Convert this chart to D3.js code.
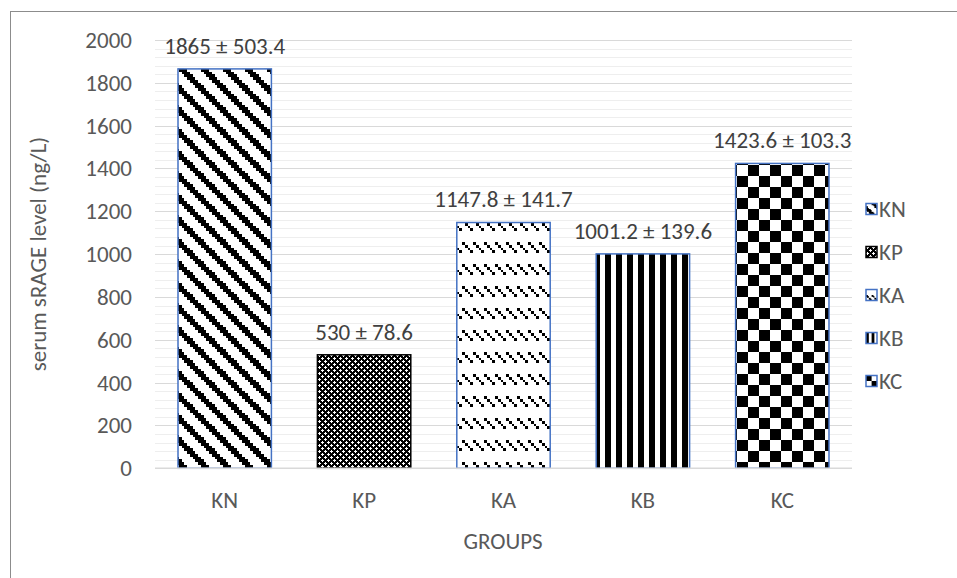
<!DOCTYPE html>
<html><head><meta charset="utf-8">
<script src="https://cdn.jsdelivr.net/npm/d3@7/dist/d3.min.js"></script>
<style>
html,body{margin:0;padding:0;background:#fff;}
svg{display:block;font-family:Carlito,Lato,"Open Sans",sans-serif;}
</style></head>
<body>
<svg id="chart" width="957" height="578"></svg>
<script>
const categories = ["KN","KP","KA","KB","KC"];
const means = [1865, 530, 1147.8, 1001.2, 1423.6];
const sds = [503.4, 78.6, 141.7, 139.6, 103.3];
const yTicks = [0,200,400,600,800,1000,1200,1400,1600,1800,2000];
const patterns = ["wideDown","sphere","dashedDown","wideVert","checker"];
const borders = ["#4472C4","#000000","#4472C4","#4472C4","#4472C4"];
const FS = 23;

const svg = d3.select("#chart");
const defs = svg.append("defs");

function makePattern(id, kind, s){
  const T = 8*s;
  const p = defs.append("pattern").attr("id",id).attr("patternUnits","userSpaceOnUse")
    .attr("width", kind==="sphere" ? 6 : T).attr("height", kind==="sphere" ? 6 : T);
  const px = [];
  if(kind==="wideDown"){
    for(let r=0;r<8;r++) for(let k=0;k<3;k++) px.push([(r+k)%8, r]);
  } else if(kind==="dashedDown"){
    for(let r=0;r<4;r++){ px.push([r,r]); px.push([r+4,r]); }
  } else if(kind==="wideVert"){
    for(let r=0;r<8;r++) for(const c of [0,1,4,5]) px.push([c,r]);
  } else if(kind==="checker"){
    for(let r=0;r<8;r++) for(let c=0;c<8;c++) if(((r<4)?0:1) ^ ((c<4)?0:1)) px.push([c,r]);
  }
  if(kind==="sphere"){
    p.append("rect").attr("width",6).attr("height",6).attr("fill","#000");
    const w = [[0,1,3,1],[1,0,1,3],[3,4,3,1],[4,3,1,3]];
    w.forEach(a=>p.append("rect").attr("x",a[0]).attr("y",a[1]).attr("width",a[2]).attr("height",a[3]).attr("fill","#fff"));
    return;
  }
  p.append("rect").attr("width",T).attr("height",T).attr("fill","#fff");
  p.selectAll("rect.px").data(px).join("rect").attr("class","px")
    .attr("x",d=>d[0]*s).attr("y",d=>d[1]*s).attr("width",s+0.02).attr("height",s+0.02)
    .attr("fill","#000").attr("shape-rendering","crispEdges");
}
patterns.forEach((k,i)=>{ makePattern("pb"+i,k,2.75); makePattern("pl"+i,k,1.4); });

// chart border
svg.append("rect").attr("x",10.5).attr("y",11.5).attr("width",1000).attr("height",700)
  .attr("fill","none").attr("stroke","#8c8c8c").attr("stroke-width",1);

const x = d3.scaleBand().domain(categories).range([155,852]).paddingInner(0.33).paddingOuter(0.165);
const y = d3.scaleLinear().domain([0,2000]).range([468.3,40]);

// minor grid
const minor = d3.range(40,2000,40).filter(v=>v%200!==0);
svg.append("g").selectAll("line").data(minor).join("line")
  .attr("x1",155).attr("x2",852).attr("y1",d=>Math.round(y(d))+0.5).attr("y2",d=>Math.round(y(d))+0.5)
  .attr("stroke","#eeeeee").attr("stroke-width",1);
// major grid
svg.append("g").selectAll("line").data(yTicks.slice(1)).join("line")
  .attr("x1",155).attr("x2",852).attr("y1",d=>Math.round(y(d))+0.5).attr("y2",d=>Math.round(y(d))+0.5)
  .attr("stroke","#d9d9d9").attr("stroke-width",1);

// y axis labels
const yAxis = d3.axisLeft(y).tickValues(yTicks).tickSize(0).tickPadding(0).tickFormat(d3.format("d"));
const gy = svg.append("g").attr("transform","translate(132,0)").call(yAxis);
gy.select(".domain").remove();
gy.selectAll("text").attr("font-size",FS).attr("fill","#595959").attr("font-family","Carlito,Lato,sans-serif");

// bars
const data = categories.map((c,i)=>({c, m:means[i], sd:sds[i], i}));
svg.append("g").selectAll("rect").data(data).join("rect")
  .attr("x",d=>x(d.c)).attr("y",d=>y(d.m)).attr("width",x.bandwidth()).attr("height",d=>y(0)-y(d.m))
  .attr("fill",d=>`url(#pb${d.i})`).attr("stroke",d=>borders[d.i]).attr("stroke-width",1.5);

// baseline
svg.append("line").attr("x1",155).attr("x2",852).attr("y1",y(0)).attr("y2",y(0))
  .attr("stroke","#d9d9d9").attr("stroke-width",1.5);

// x axis labels
const xAxis = d3.axisBottom(x).tickSize(0).tickPadding(0);
const gx = svg.append("g").attr("transform","translate(0,500)").call(xAxis);
gx.select(".domain").remove();
gx.selectAll("text").attr("dy","0.35em").attr("font-size",FS).attr("fill","#595959").attr("font-family","Carlito,Lato,sans-serif");

// data labels
svg.append("g").selectAll("text").data(data).join("text")
  .attr("x",d=>x(d.c)+x.bandwidth()/2).attr("y",d=>y(d.m)-15)
  .attr("text-anchor","middle").attr("font-size",FS).attr("fill","#404040")
  .text(d=>`${d.m} ± ${d.sd}`);

// axis titles
svg.append("text").attr("x",503).attr("y",541).attr("dy","0.35em").attr("text-anchor","middle")
  .attr("font-size",FS).attr("fill","#595959").text("GROUPS");
svg.append("text").attr("transform","translate(38,254) rotate(-90)").attr("dy","0.35em").attr("text-anchor","middle")
  .attr("font-size",FS).attr("fill","#595959").text("serum sRAGE level (ng/L)");

// legend
const ly = d3.scalePoint().domain(categories).range([209,381]);
const lg = svg.append("g").selectAll("g").data(data).join("g")
  .attr("transform",d=>`translate(866,${ly(d.c)})`);
lg.append("rect").attr("x",0).attr("y",-5.5).attr("width",11).attr("height",11)
  .attr("fill",d=>`url(#pl${d.i})`).attr("stroke",d=>borders[d.i]).attr("stroke-width",1.5);
lg.append("text").attr("x",13).attr("dy","0.35em").attr("font-size",FS).attr("fill","#595959").text(d=>d.c);
</script>
</body></html>
